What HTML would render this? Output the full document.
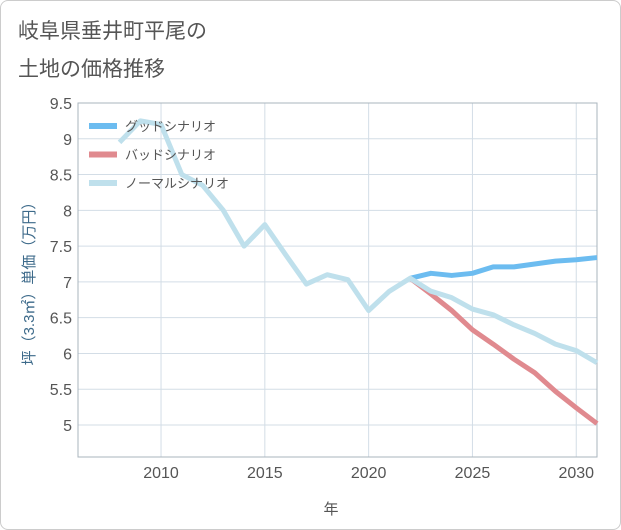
<!DOCTYPE html>
<html><head><meta charset="utf-8"><style>
body{margin:0;background:#fff;font-family:"Liberation Sans","Noto Sans CJK JP",sans-serif;}
.card{position:absolute;left:0;top:0;width:619px;height:528px;border:1px solid #ccc;border-radius:8px;background:#fff;}
</style></head><body>
<div class="card"></div>
<svg width="621" height="530" style="position:absolute;left:0;top:0" id="chart">
<text x="18" y="38" font-size="21" fill="#555">岐阜県垂井町平尾の</text>
<text x="18" y="76" font-size="21" fill="#555">土地の価格推移</text>
<g id="grid"></g><g id="series"></g><g id="legend"></g>
<text x="331" y="514" font-size="15" fill="#555" text-anchor="middle">年</text>
<text transform="translate(34,280) rotate(-90)" font-size="15" fill="#3d6a8a" text-anchor="middle">坪（3.3㎡）単価（万円）</text>
</svg>
<script>
const years=[2008,2009,2010,2011,2012,2013,2014,2015,2016,2017,2018,2019,2020,2021,2022,2023,2024,2025,2026,2027,2028,2029,2030,2031];
const normal=[8.95,9.25,9.2,8.5,8.35,8.0,7.5,7.8,7.38,6.97,7.1,7.03,6.6,6.87,7.05,6.87,6.78,6.62,6.54,6.4,6.28,6.13,6.04,5.87];
const goodYears=[2022,2023,2024,2025,2026,2027,2028,2029,2030,2031];
const good=[7.05,7.12,7.09,7.12,7.21,7.21,7.25,7.29,7.31,7.34];
const bad=[7.05,6.83,6.6,6.33,6.13,5.92,5.73,5.47,5.24,5.02];
const yTicks=[5,5.5,6,6.5,7,7.5,8,8.5,9,9.5];
const xTicks=[2010,2015,2020,2025,2030];
const L=78,R=597,T=103,B=457;
const X=v=>L+(v-2006)*(R-L)/25;
const Y=v=>425-(v-5)*(425-103)/4.5;
const NS='http://www.w3.org/2000/svg';
function mk(tag,attrs,parent){const e=document.createElementNS(NS,tag);for(const k in attrs)e.setAttribute(k,attrs[k]);parent.appendChild(e);return e;}
const g=document.getElementById('grid');
yTicks.forEach(v=>{
 const l=mk('line',{x1:L,x2:R,y1:Y(v),y2:Y(v),stroke:'#d3dde6','stroke-width':1},g);
 
 
 const t=mk('text',{x:72,y:Y(v)+6,'font-size':16,fill:'#555','text-anchor':'end'},g);t.textContent=String(v);
 
 
});
xTicks.forEach(v=>{
 const l=mk('line',{x1:X(v),x2:X(v),y1:T,y2:B,stroke:'#d3dde6','stroke-width':1},g);
 
 
 const t=mk('text',{x:X(v),y:478,'font-size':16,fill:'#555','text-anchor':'middle'},g);t.textContent=String(v);
 
 
});
const fr=mk('rect',{x:L,y:T,width:R-L,height:B-T,fill:'none',stroke:'#aab4bd','stroke-width':1},g);


const s=document.getElementById('series');
function line(xs,ys,color,name){
 const p=mk('polyline',{points:xs.map((x,i)=>X(x)+','+Y(ys[i])).join(' '),fill:'none',stroke:color,'stroke-width':5,'stroke-linejoin':'round'},s);
 
 
}
line(goodYears,good,'#6cbcf0','good-scenario-line');
line(goodYears,bad,'#e08a8f','bad-scenario-line');
line(years,normal,'#bfe0ec','normal-scenario-line');
const lg=document.getElementById('legend');
[['グッドシナリオ','#6cbcf0'],['バッドシナリオ','#e08a8f'],['ノーマルシナリオ','#bfe0ec']].forEach((d,i)=>{
 const y=126+i*28.5;
 const r=mk('rect',{x:89,y:y-3,width:28,height:6,fill:d[1]},lg);
 
 
 const t=mk('text',{x:125,y:y+5,'font-size':13,fill:'#555'},lg);t.textContent=d[0];
 
 
});
</script>
</body></html>
